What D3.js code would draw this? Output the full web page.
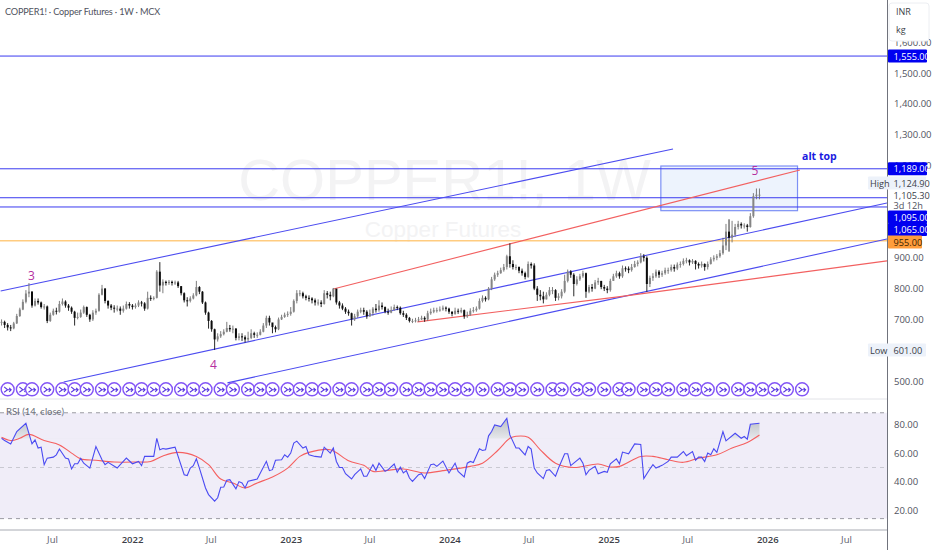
<!DOCTYPE html>
<html>
<head>
<meta charset="utf-8">
<script src="https://cdn.jsdelivr.net/npm/d3@7"></script>
<style>
  html, body { margin: 0; padding: 0; background: #fff; }
  svg { display: block; font-family: "Open Sans", "Noto Sans", sans-serif; }
  .tick line, .domain { display: none; }
</style>
</head>
<body>
<div id="chart"></div>
<script>
// weekly bars, first bar is the week of 7 Mar 2021.
const closes = [
  692,682,674,671,687,711,732,757,784,790,
  745,760,755,740,742,695,715,728,725,750,
  758,745,738,725,705,708,722,740,715,700,
  722,728,780,800,760,745,738,735,735,728,
  735,750,745,740,745,755,752,735,
  770,768,770,855,810,822,818,822,818,820,
  808,785,762,760,768,778,805,790,755,722,695,668,
  635,645,652,660,672,668,670,640,645,642,
  635,640,655,650,650,660,680,705,690,675,
  668,700,708,715,718,725,760,785,785,775,770,768,
  762,755,755,750,785,780,775,800,755,745,
  735,725,720,700,710,725,730,725,710,720,
  735,730,745,740,725,722,730,740,738,720,
  715,705,695,695,697,700,705,700,720,725,
  730,730,732,738,735,725,718,728,725,730,
  710,715,728,730,735,760,770,765,800,830,
  845,850,860,870,905,880,870,870,858,850,
  838,880,875,800,780,775,765,780,795,795,
  770,775,790,825,855,845,815,830,840,850,
  790,805,800,820,825,805,800,795,825,840,850,840,
  866,865,860,870,880,885,905,900,
  815,835,840,855,845,850,860,860,870,865,
  878,880,890,892,885,890,880,875,880,870,
  880,895,900,905,915,940,985,965,975,1000,
  1010,1005,1005,1000,1035,1100,1105,1105
];
const highs = [
  700,696,688,682,692,718,738,765,795,818,
  792,768,768,758,750,745,722,735,738,760,
  768,762,750,742,728,722,732,745,742,718,
  730,735,785,812,802,762,750,746,745,742,
  745,758,756,750,752,762,760,756,
  790,778,775,860,886,830,826,828,826,826,
  825,808,788,772,775,785,825,808,792,758,725,698,
  670,655,662,668,692,682,680,672,655,655,
  648,660,668,660,658,668,688,712,712,688,
  680,706,715,722,726,740,765,795,795,790,780,778,
  772,768,765,762,795,792,790,802,798,760,
  752,740,732,722,718,732,738,738,730,732,
  740,750,762,755,742,735,742,748,745,742,
  728,720,708,702,705,708,712,710,728,735,
  738,738,742,745,742,738,726,738,735,738,
  732,725,736,740,742,768,778,775,805,838,
  852,858,868,880,910,947,892,878,872,865,
  855,888,885,882,808,795,790,788,805,805,
  798,785,798,845,862,860,850,840,848,858,
  852,812,815,828,835,825,812,808,832,848,858,855,
  875,872,872,880,890,892,915,912,
  905,842,850,862,860,858,868,868,878,878,
  885,888,898,900,895,896,892,885,888,882,
  888,902,908,912,925,965,1010,1025,1020,1010,
  1020,1015,1012,1010,1045,1110,1125,1125
];
const lows = [
  680,672,664,662,668,685,708,730,752,772,
  738,742,748,735,732,688,692,712,716,722,
  745,738,728,718,680,700,705,718,708,692,
  695,715,725,778,752,735,730,722,726,715,
  722,732,735,732,735,740,742,728,
  732,760,762,768,790,785,810,812,810,812,
  802,778,755,742,755,765,775,782,750,715,670,660,
  601,628,640,648,658,660,655,632,632,630,
  625,628,636,640,640,648,658,672,680,655,
  658,665,698,705,708,712,722,752,775,768,762,758,
  752,745,745,740,748,768,762,772,748,735,
  730,718,712,680,695,705,720,715,702,708,
  712,722,725,732,720,715,720,728,730,715,
  708,698,690,688,690,692,698,692,695,715,
  720,722,725,728,726,718,710,715,718,720,
  702,705,712,722,725,732,755,758,762,795,
  825,838,848,855,862,868,862,860,850,842,
  830,835,865,795,760,762,752,765,775,782,
  760,762,768,785,820,835,775,810,825,835,
  770,785,790,798,812,798,792,785,790,825,835,832,
  835,855,850,855,868,872,882,888,
  790,805,825,835,835,838,845,848,855,855,
  860,868,875,882,875,880,862,865,868,858,
  862,878,888,892,900,910,925,920,950,968,
  992,995,995,985,998,1030,1090,1090
];

// rsi line: vertices only, bar number + value
const rsiBars = [0,1,3,5,8,10,11,12,13,14,15,17,18,19,21,22,23,24,25,26,27,29,31,33,34,35,38,39,41,43,45,46,47,48,50,51,52,53,54,57,60,61,62,63,64,65,67,68,70,71,72,73,74,75,77,78,79,80,81,84,87,88,89,90,92,93,94,95,96,97,99,100,101,
  103,105,106,108,109,110,111,112,113,115,116,118,119,120,122,123,124,126,127,129,130,131,132,133,134,135,137,138,139,141,142,143,145,147,149,150,152,153,154,155,157,158,159,160,161,162,164,166,167,169,170,172,173,174,175,176,178,179,180,182,183,185,186,187,190,191,192,193,195,196,198,199,200,202,203,
  204,206,208,210,211,213,214,215,217,219,220,222,224,225,227,228,229,230,231,232,233,234,235,237,238,241,243,244,245,246,249];
const rsiVals = [70.3,68.7,66.4,75,80.7,66.4,69.2,63.5,64.1,52,56.5,57.2,58.8,62.8,56.5,55.9,49,52.6,52.6,56.3,53,49.6,64.6,55.4,52,53.6,49.6,52,56.5,52.6,54.2,51.3,57.7,57.7,57.7,70.3,62.3,63.2,62.8,64.1,45,44.4,49.6,51.3,56,49.6,35.8,31.2,26.6,29,36.3,36.5,41.1,41.6,35.2,40.2,39.3,35.8,40.4,42,54.3,47.8,48.5,55,55.4,58.8,57.2,60,66.9,68.3,63.5,64.6,58.8,
  57.7,57.2,64.1,60,63.5,54.2,50,50,45.7,42,45,49,43.9,43.9,52,48,53,47.3,48.5,52.4,46.7,50.3,46.2,47.8,42.7,40.4,45,45.7,42.3,52,52.4,50.8,54.5,46.2,53,47.3,43.4,53,54.2,53.5,63,61.8,62.3,72,75,79.5,78.4,84.2,72.6,63.5,63.5,58.8,64.6,62.8,49.6,46.2,42.3,48,48.5,43.9,49.6,59.5,59.5,51.3,56.5,53,45,48,50.8,45.7,47.3,46.7,52.6,56,52.6,
  60.7,59.5,66.4,66,42.3,49,52,49.6,51.5,54.2,57.2,57.2,61.1,58.2,61.1,55,57.2,57.2,54.2,60,58.8,63,60.5,75,68.5,73.8,70.3,71.5,69.7,80,80.7];

// rsi smoothing line
const maBars = [0,3,6,9,14,19,23,26,31,37,44,49,53,58,64,68,72,76,80,84,89,94,98,101,108,114,119,122,126,132,139,145,154,158,163,167,169,173,177,182,188,196,200,203,210,214,219,224,229,235,240,245,249];
const maVals = [71,68.7,70.3,73,68.7,65.7,60,56,55,53.8,53.8,54.2,58,60.5,57.7,52,42,39.3,35.8,39.3,43.4,49.6,57.7,60.5,62.3,54.7,51.5,47.3,47.8,49,46.2,47.8,50.8,53,61.8,70.3,71.7,71,62.3,53,50,52.4,50.3,50.8,57.7,57.7,55.4,53.6,56.5,58.8,63.5,67.4,72.6];

// hlines
const levelPrices = [1555, 1189, 1095, 1065];
const orangeLevel = 955;

// trend lines as [bar, price]
const upperChannel = [[-0.3, 792], [220.6, 1253]];
const midChannel = [[20.4, 497], [290.9, 1078]];
const lowerChannel = [[74.2, 494], [290.9, 961]];
const redTop = [[109, 799], [262.3, 1185]];
const redBottom = [[136.6, 692], [203.2, 774], [290.9, 890]];

// the target box
const boxBars = [216.6, 261.5];
const boxPrices = [1053, 1198];

// wave labels [text, bar, price]
const waveLabels = [["3", 9.8, 828], ["4", 69.6, 539], ["5", 247.5, 1169]];
const altTop = ["alt top", 263, 1217];

// time cycle icons
const iconBars = [2,7,10,15,20,24,28,33,37,42,46,50,54,59,63,67,72,76,81,85,89,94,98,102,106,111,115,120,124,128,133,137,141,145,149,153,158,163,167,171,176,181,184,189,193,198,203,206,211,215,219,224,228,232,237,242,246,250,254,258,263];
const iconPrice = 473;

const priceTicks = [500, 700, 800, 900, 1200, 1300, 1400, 1500, 1600];
const rsiTicks = [20, 40, 60, 80];
const rsiBands = [14.5, 50, 88];
const timeTicks = [
  new Date(2021, 6, 1), new Date(2022, 0, 1), new Date(2022, 6, 1), new Date(2023, 0, 1),
  new Date(2023, 6, 1), new Date(2024, 0, 1), new Date(2024, 6, 1), new Date(2025, 0, 1),
  new Date(2025, 6, 1), new Date(2026, 0, 1), new Date(2026, 6, 1)
];

const W = 932, H = 550, axisX = 887;
const firstBar = new Date(2021, 2, 7);
const barDate = i => new Date(firstBar.getTime() + i * 7 * 864e5);

const x = d3.scaleTime().domain([new Date(2021, 6, 1), new Date(2026, 6, 1)]).range([52, 846]);
const y = d3.scaleLinear().domain([500, 1500]).range([381, 73]);
const yRsi = d3.scaleLinear().domain([20, 80]).range([510.7, 424.3]);
const xBar = i => x(barDate(i));

const svg = d3.select("#chart").append("svg").attr("width", W).attr("height", H);

svg.append("rect").attr("width", W).attr("height", H).attr("fill", "#fff");

const defs = svg.append("defs");
defs.append("clipPath").attr("id", "plot").append("rect").attr("width", axisX).attr("height", 399);
defs.append("clipPath").attr("id", "over").append("rect")
  .attr("width", axisX).attr("height", yRsi(70));
const grad = defs.append("linearGradient").attr("id", "obFill")
  .attr("gradientUnits", "userSpaceOnUse")
  .attr("x1", 0).attr("x2", 0).attr("y1", yRsi(85)).attr("y2", yRsi(70));
grad.append("stop").attr("offset", 0).attr("stop-color", "#b8bcc0");
grad.append("stop").attr("offset", 1).attr("stop-color", "#e6e8ec");

// watermark
svg.append("text").attr("x", 444.5).attr("y", 200).attr("text-anchor", "middle")
  .attr("font-family", '"Liberation Sans", sans-serif')
  .attr("font-size", 58).attr("fill", "#f3f3f4").text("COPPER1!, 1W");
svg.append("text").attr("x", 443).attr("y", 237).attr("text-anchor", "middle")
  .attr("font-family", '"Liberation Sans", sans-serif')
  .attr("font-size", 22.5).attr("fill", "#f3f3f4").text("Copper Futures");

const plot = svg.append("g").attr("clip-path", "url(#plot)");

// box goes under the lines
plot.append("rect")
  .attr("x", xBar(boxBars[0])).attr("width", xBar(boxBars[1]) - xBar(boxBars[0]))
  .attr("y", y(boxPrices[1])).attr("height", y(boxPrices[0]) - y(boxPrices[1]))
  .attr("fill", "#edf3fd").attr("stroke", "#7d90f5").attr("stroke-width", 1.2);

// horizontal levels
plot.selectAll("line.level").data(levelPrices).enter().append("line")
  .attr("class", "level")
  .attr("x1", 0).attr("x2", axisX)
  .attr("y1", d => y(d)).attr("y2", d => y(d))
  .attr("stroke", "#3a3af0")
  .attr("stroke-width", 1);
plot.append("line").attr("x1", 0).attr("x2", axisX)
  .attr("y1", y(orangeLevel)).attr("y2", y(orangeLevel))
  .attr("stroke", "#ffcc80").attr("stroke-width", 1.5);

// trend lines
const trend = d3.line().x(d => xBar(d[0])).y(d => y(d[1]));
[upperChannel, midChannel, lowerChannel].forEach(l => {
  plot.append("path").attr("d", trend(l)).attr("fill", "none")
    .attr("stroke", "#4c4cf0").attr("stroke-width", 1.1);
});
[redTop, redBottom].forEach(l => {
  plot.append("path").attr("d", trend(l)).attr("fill", "none")
    .attr("stroke", "#f26060").attr("stroke-width", 1.1);
});

// candles
const bars = closes.map((c, i) => ({
  i: i, open: i ? closes[i - 1] : 690, close: c, high: highs[i], low: lows[i]
}));
const candle = plot.append("g").selectAll("g").data(bars).enter().append("g");
candle.append("line")
  .attr("x1", d => xBar(d.i)).attr("x2", d => xBar(d.i))
  .attr("y1", d => y(d.high)).attr("y2", d => y(d.low))
  .attr("stroke", d => d.close >= d.open ? "#6e6e6e" : "#111")
  .attr("stroke-width", 0.9);
candle.append("rect")
  .attr("x", d => xBar(d.i) - 1).attr("width", 2)
  .attr("y", d => y(Math.max(d.open, d.close)))
  .attr("height", d => Math.max(1, Math.abs(y(d.open) - y(d.close))))
  .attr("fill", d => d.close >= d.open ? "#858585" : "#0c0c0c");

// wave counts
plot.selectAll("text.wave").data(waveLabels).enter().append("text")
  .attr("x", d => xBar(d[1])).attr("y", d => y(d[2]))
  .attr("text-anchor", "middle").attr("font-size", 12).attr("fill", "#b5309f")
  .text(d => d[0]);
plot.append("text").attr("x", xBar(altTop[1])).attr("y", y(altTop[2]))
  .attr("font-size", 10.5).attr("font-weight", 700).attr("fill", "#1a1ae0")
  .text(altTop[0]);

// cycle icons
const icon = plot.append("g").selectAll("g").data(iconBars).enter().append("g")
  .attr("transform", d => `translate(${xBar(d)},${y(iconPrice)})`);
icon.append("circle").attr("r", 6.5).attr("fill", "#fff")
  .attr("stroke", "#8355f6").attr("stroke-width", 1.4);
icon.append("path").attr("d", "M-3.5,-2.5 L0,0.5 L-3.5,3 M-1,0.5 L3.5,0.5 M1.5,-1.5 L3.5,0.5 L1.5,2.5")
  .attr("fill", "none").attr("stroke", "#5a38e0").attr("stroke-width", 1.1);

// pane separator
svg.append("line").attr("x1", 0).attr("x2", axisX).attr("y1", 399).attr("y2", 399)
  .attr("stroke", "#e2e3e8").attr("stroke-width", 1);

// rsi pane
svg.append("rect").attr("x", 0).attr("width", axisX)
  .attr("y", yRsi(rsiBands[2])).attr("height", yRsi(rsiBands[0]) - yRsi(rsiBands[2]))
  .attr("fill", "#f0edf8");
svg.selectAll("line.band").data(rsiBands).enter().append("line")
  .attr("x1", 0).attr("x2", axisX)
  .attr("y1", d => yRsi(d)).attr("y2", d => yRsi(d))
  .attr("stroke", d => d === 50 ? "#c9c9d2" : "#9a9aa2")
  .attr("stroke-dasharray", "4,4").attr("stroke-width", 1);

const rsiPts = rsiBars.map((b, i) => [b, rsiVals[i]]);
const maPts = maBars.map((b, i) => [b, maVals[i]]);

svg.append("path")
  .attr("clip-path", "url(#over)")
  .attr("d", d3.area().x(d => xBar(d[0])).y0(yRsi(70)).y1(d => yRsi(d[1]))(rsiPts))
  .attr("fill", "url(#obFill)");

svg.append("path")
  .attr("d", d3.line().curve(d3.curveCatmullRom).x(d => xBar(d[0])).y(d => yRsi(d[1]))(maPts))
  .attr("fill", "none").attr("stroke", "#f55f5f").attr("stroke-width", 1.1);
svg.append("path")
  .attr("d", d3.line().x(d => xBar(d[0])).y(d => yRsi(d[1]))(rsiPts))
  .attr("fill", "none").attr("stroke", "#4a4af2").attr("stroke-width", 1.1);

// frame lines
svg.append("line").attr("x1", 0).attr("x2", axisX).attr("y1", 530).attr("y2", 530)
  .attr("stroke", "#a8abb3").attr("stroke-width", 1);
svg.append("line").attr("x1", axisX + 0.5).attr("x2", axisX + 0.5).attr("y1", 0).attr("y2", H)
  .attr("stroke", "#70737c").attr("stroke-width", 1);

// axes
const priceAxis = svg.append("g").attr("transform", `translate(${axisX},0)`)
  .call(d3.axisRight(y).tickValues(priceTicks).tickSize(0).tickPadding(7)
    .tickFormat(d3.format(",.2f")));
const rsiAxis = svg.append("g").attr("transform", `translate(${axisX},0)`)
  .call(d3.axisRight(yRsi).tickValues(rsiTicks).tickSize(0).tickPadding(7)
    .tickFormat(d3.format(".2f")));
[priceAxis, rsiAxis].forEach(a => a.selectAll("text")
  .attr("font-size", 9.5).attr("fill", "#50535e").attr("font-family", '"Open Sans", sans-serif'));

const timeAxis = svg.append("g").attr("transform", "translate(0,530)")
  .call(d3.axisBottom(x).tickValues(timeTicks).tickSize(0).tickPadding(6)
    .tickFormat(d => d.getMonth() === 0 ? d3.timeFormat("%Y")(d) : d3.timeFormat("%b")(d)));
timeAxis.selectAll("text").attr("font-size", 9.5).attr("font-family", '"Open Sans", sans-serif')
  .attr("fill", d => d.getMonth() === 0 ? "#3c3f48" : "#5d606b")
  .attr("font-weight", d => d.getMonth() === 0 ? 600 : 400);

// price tags on the axis
const tag = (txt, py, bg, fg, wd) => {
  svg.append("rect").attr("x", axisX + 1).attr("y", py - 6.5).attr("width", wd || 39).attr("height", 13)
    .attr("rx", 1).attr("fill", bg);
  svg.append("text").attr("x", axisX + 6.5).attr("y", py + 3.5).attr("font-size", 9.2)
    .attr("fill", fg).text(txt);
};
tag(d3.format(",.2f")(1555), y(1555), "#0000f0", "#fff");
tag(d3.format(",.2f")(1189), y(1189), "#0000f0", "#fff");
tag(d3.format(",.2f")(1095), 217, "#0000f0", "#fff");
tag(d3.format(",.2f")(1065), 229.5, "#0000f0", "#fff");
tag(d3.format(",.2f")(955), 242, "#ff9d3c", "#3a2200", 34);

// high / low labels
const sideTag = (name, val, py) => {
  svg.append("rect").attr("x", 868).attr("y", py - 6.5).attr("width", 58).attr("height", 13)
    .attr("fill", "#edf2fa").attr("rx", 1);
  svg.append("text").attr("x", 870).attr("y", py + 3.5).attr("font-size", 9.2)
    .attr("fill", "#3c3f48").text(name);
  svg.append("text").attr("x", axisX + 6.5).attr("y", py + 3.5).attr("font-size", 9.2)
    .attr("fill", "#3c3f48").text(val);
};
sideTag("High", d3.format(",.2f")(1124.9), 183);
sideTag("Low", d3.format(",.2f")(601), 350);
svg.append("text").attr("x", axisX + 6.5).attr("y", 198.5).attr("font-size", 9.2)
  .attr("fill", "#3c3f48").text(d3.format(",.2f")(1105.3));
svg.append("text").attr("x", axisX + 6.5).attr("y", 208.5).attr("font-size", 9.2)
  .attr("fill", "#50535e").text("3d 12h");

// currency box, sits over the top tick
svg.append("rect").attr("x", axisX + 2).attr("y", 3).attr("width", 40).attr("height", 38)
  .attr("rx", 3).attr("fill", "#fff").attr("stroke", "#eceef2");
svg.append("text").attr("x", 896).attr("y", 15).attr("font-size", 9).attr("fill", "#3c3f48").text("INR");
svg.append("text").attr("x", 896).attr("y", 33).attr("font-size", 9).attr("fill", "#3c3f48").text("kg");

// titles
svg.append("text").attr("x", 5).attr("y", 15).attr("font-size", 9.2).attr("fill", "#50535e")
  .attr("font-family", 'Lato, sans-serif').attr("letter-spacing", -0.2)
  .text("COPPER1! · Copper Futures · 1W · MCX");
svg.append("text").attr("x", 6).attr("y", 415).attr("font-size", 9.5).attr("fill", "#6a6d78")
  .attr("font-family", 'Lato, sans-serif')
  .text("RSI (14, close)");
</script>
</body>
</html>
